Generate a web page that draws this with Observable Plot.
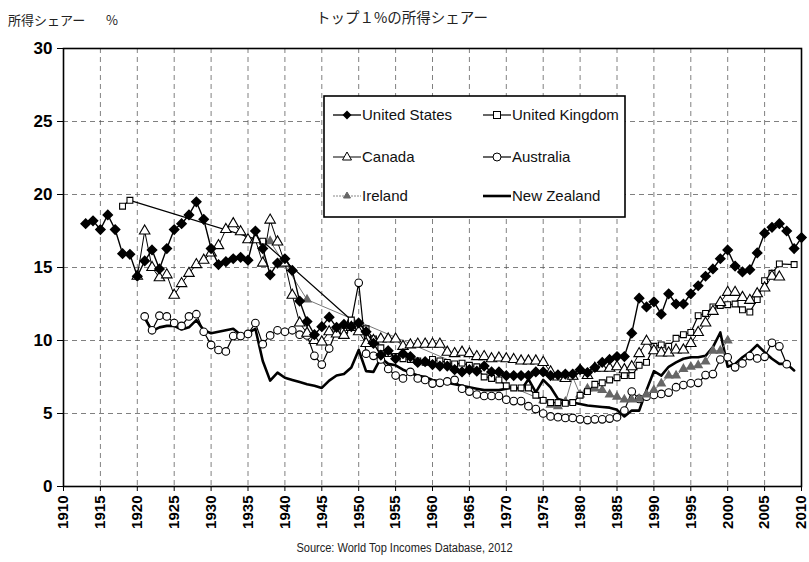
<!DOCTYPE html>
<html><head><meta charset="utf-8">
<script src="https://cdn.jsdelivr.net/npm/d3@7"></script>
<script src="https://cdn.jsdelivr.net/npm/@observablehq/plot@0.6"></script>
<style>
body{margin:0;background:#fff;}
#wrap{position:relative;width:809px;height:562px;overflow:hidden;font-family:"Liberation Sans",Arial,sans-serif;background:#fff;}
.t{position:absolute;white-space:nowrap;color:#222;line-height:1;}
.jp{font-family:"Noto Sans CJK JP","Noto Sans",sans-serif;font-size:13px;}
#chart{position:absolute;left:0;top:0;}
#legend{position:absolute;left:323px;top:95px;}
g[aria-label="x-axis tick label"] text{font-weight:bold;font-size:15px;}
g[aria-label="y-axis tick label"] text{font-weight:bold;font-size:17px;}
</style></head><body>
<div id="wrap">
  <div id="chart"></div>
  <div class="t jp" style="left:8px;top:13px;">所得シェアー</div>
  <div class="t jp" style="left:106px;top:13px;">%</div>
  <div class="t jp" style="left:316px;top:10px;font-size:14.5px;">トップ１%の所得シェアー</div>
  <div class="t" style="left:0;width:809px;text-align:center;top:542px;font-size:12px;transform:scaleX(0.92);">Source: World Top Incomes Database, 2012</div>
  <svg id="legend" width="304" height="124" font-family="Liberation Sans, Arial, sans-serif" font-size="15">
    <rect x="1" y="1" width="301" height="121" fill="#fff" stroke="#000" stroke-width="1.6"/>
    <line x1="10" x2="38" y1="20" y2="20" stroke="#000" stroke-width="1.3"/>
    <path d="M24,15.5 L28.5,20 L24,24.5 L19.5,20Z" fill="#000"/>
    <text x="39" y="25" fill="#111">United States</text>
    <line x1="160" x2="188" y1="20" y2="20" stroke="#000" stroke-width="1.2"/>
    <rect x="170.5" y="16.5" width="7" height="7" fill="#fff" stroke="#000"/>
    <text x="189" y="25" fill="#111">United Kingdom</text>
    <line x1="10" x2="38" y1="62" y2="62" stroke="#000" stroke-width="1"/>
    <path d="M24,57 L28.5,65 L19.5,65Z" fill="#fff" stroke="#000"/>
    <text x="39" y="67" fill="#111">Canada</text>
    <line x1="160" x2="188" y1="62" y2="62" stroke="#000" stroke-width="1.2"/>
    <circle cx="174" cy="62" r="4" fill="#fff" stroke="#000"/>
    <text x="189" y="67" fill="#111">Australia</text>
    <line x1="10" x2="38" y1="101" y2="101" stroke="#888" stroke-width="1" stroke-dasharray="2,1"/>
    <path d="M24,97 L27.5,103 L20.5,103Z" fill="#666" stroke="#666"/>
    <text x="39" y="106" fill="#111">Ireland</text>
    <line x1="160" x2="188" y1="101" y2="101" stroke="#000" stroke-width="2.6"/>
    <text x="189" y="106" fill="#111">New Zealand</text>
  </svg>
</div>
<script>
const xTicks = [1910,1915,1920,1925,1930,1935,1940,1945,1950,1955,1960,1965,1970,1975,1980,1985,1990,1995,2000,2005,2010];
const yTicks = [0,5,10,15,20,25,30];

const unitedStates = [[1913,18.0],[1914,18.2],[1915,17.6],[1916,18.6],[1917,17.6],[1918,15.95],[1919,15.9],[1920,14.4],[1921,15.45],[1922,16.2],[1923,14.9],[1924,16.3],[1925,17.6],[1926,18.0],[1927,18.6],[1928,19.5],[1929,18.3],[1930,16.3],[1931,15.2],[1932,15.4],[1933,15.6],[1934,15.7],[1935,15.5],[1936,17.5],[1937,16.3],[1938,14.5],[1939,15.3],[1940,15.6],[1941,14.8],[1942,12.7],[1943,11.3],[1944,10.4],[1945,10.95],[1946,11.6],[1947,10.9],[1948,11.1],[1949,10.95],[1950,11.2],[1951,10.6],[1952,9.8],[1953,9.0],[1954,9.3],[1955,8.75],[1956,9.1],[1957,8.9],[1958,8.5],[1959,8.55],[1960,8.35],[1961,8.25],[1962,8.25],[1963,8.0],[1964,7.85],[1965,8.0],[1966,7.9],[1967,8.25],[1968,7.85],[1969,7.85],[1970,7.6],[1971,7.6],[1972,7.6],[1973,7.6],[1974,7.85],[1975,7.85],[1976,7.6],[1977,7.65],[1978,7.7],[1979,7.7],[1980,8.0],[1981,7.8],[1982,8.15],[1983,8.5],[1984,8.7],[1985,8.9],[1986,8.9],[1987,10.5],[1988,12.9],[1989,12.3],[1990,12.65],[1991,11.8],[1992,13.2],[1993,12.5],[1994,12.5],[1995,13.2],[1996,13.75],[1997,14.4],[1998,14.9],[1999,15.6],[2000,16.2],[2001,15.1],[2002,14.7],[2003,14.85],[2004,16.0],[2005,17.35],[2006,17.75],[2007,18.0],[2008,17.5],[2009,16.3],[2010,17.05]];

const unitedKingdom = [[1918,19.2],[1919,19.6],[1937,16.8],[1949,11.4],[1951,10.8],[1952,10.1],[1953,9.5],[1954,9.1],[1955,8.9],[1956,8.75],[1957,8.7],[1958,8.6],[1959,8.5],[1960,8.7],[1961,8.6],[1962,8.5],[1963,8.4],[1964,8.45],[1965,8.3],[1966,8.2],[1967,7.5],[1968,7.4],[1969,7.3],[1970,6.9],[1971,6.75],[1972,6.75],[1973,6.75],[1974,6.25],[1975,5.9],[1976,5.75],[1977,5.75],[1978,5.7],[1979,5.75],[1980,6.25],[1981,6.5],[1982,7.0],[1983,7.1],[1984,7.3],[1985,7.45],[1986,7.6],[1987,7.6],[1988,8.3],[1989,8.5],[1990,9.6],[1991,9.7],[1992,9.6],[1993,10.15],[1994,10.4],[1995,10.55],[1996,11.7],[1997,11.85],[1998,12.3],[1999,12.4],[2000,12.45],[2001,12.5],[2002,12.1],[2003,11.95],[2004,12.8],[2005,14.1],[2006,14.6],[2007,15.25],[2009,15.2]];

const canada = [[1920,14.4],[1921,17.5],[1922,15.0],[1923,14.3],[1924,14.5],[1925,13.1],[1926,13.9],[1927,14.6],[1928,15.2],[1929,15.5],[1930,16.0],[1931,16.5],[1932,17.6],[1933,18.0],[1934,17.45],[1935,16.9],[1936,16.9],[1937,15.3],[1938,18.25],[1939,16.75],[1940,15.3],[1941,13.1],[1942,11.2],[1943,10.5],[1944,10.0],[1945,9.9],[1946,10.6],[1947,10.45],[1948,10.35],[1949,10.9],[1950,10.6],[1951,9.8],[1952,10.0],[1953,10.1],[1954,10.1],[1955,10.1],[1956,9.6],[1957,9.7],[1958,9.75],[1959,9.75],[1960,9.75],[1961,9.75],[1962,9.2],[1963,9.1],[1964,9.2],[1965,9.1],[1966,8.9],[1967,8.9],[1968,8.75],[1969,8.8],[1970,8.75],[1971,8.7],[1972,8.6],[1973,8.6],[1974,8.6],[1975,8.5],[1976,7.85],[1977,7.5],[1978,7.4],[1979,7.55],[1980,7.95],[1981,7.6],[1982,8.1],[1983,8.1],[1984,8.1],[1985,8.2],[1986,8.0],[1987,8.2],[1988,9.1],[1989,9.95],[1990,9.3],[1991,9.15],[1992,9.15],[1993,9.35],[1994,9.35],[1995,9.8],[1996,10.55],[1997,11.2],[1998,12.0],[1999,12.6],[2000,13.3],[2001,13.3],[2002,12.95],[2003,12.75],[2004,13.2],[2005,13.6],[2006,14.4],[2007,14.35]];

const australia = [[1921,11.65],[1922,10.7],[1923,11.7],[1924,11.65],[1925,11.2],[1926,11.0],[1927,11.65],[1928,11.8],[1929,10.6],[1930,9.7],[1931,9.35],[1932,9.25],[1933,10.3],[1934,10.3],[1935,10.45],[1936,11.2],[1937,9.75],[1938,10.35],[1939,10.7],[1940,10.6],[1941,10.7],[1942,10.4],[1943,10.35],[1944,8.95],[1945,8.35],[1946,9.45],[1947,10.7],[1948,10.6],[1949,11.3],[1950,13.95],[1951,9.1],[1952,8.95],[1953,8.7],[1954,8.05],[1955,7.6],[1956,7.4],[1957,7.85],[1958,7.4],[1959,7.3],[1960,7.05],[1961,7.1],[1962,7.2],[1963,7.3],[1964,6.7],[1965,6.5],[1966,6.3],[1967,6.2],[1968,6.2],[1969,6.2],[1970,5.95],[1971,5.85],[1972,5.85],[1973,5.5],[1974,5.3],[1975,5.0],[1976,4.8],[1977,4.75],[1978,4.7],[1979,4.7],[1980,4.6],[1981,4.55],[1982,4.6],[1983,4.6],[1984,4.65],[1985,4.75],[1986,5.2],[1987,6.5],[1988,6.0],[1989,6.15],[1990,6.27],[1991,6.34],[1992,6.43],[1993,6.8],[1994,6.95],[1995,7.07],[1996,7.1],[1997,7.63],[1998,7.7],[1999,8.7],[2000,8.85],[2001,8.16],[2002,8.43],[2003,8.93],[2004,8.77],[2005,8.88],[2006,9.84],[2007,9.6],[2008,8.38]];

const ireland = [[1938,16.8],[1943,12.8],[1975,5.9],[1976,5.6],[1977,5.5],[1978,5.8],[1979,7.5],[1980,6.3],[1981,6.7],[1982,6.7],[1983,6.6],[1984,6.3],[1985,6.15],[1986,5.95],[1987,5.95],[1988,6.0],[1989,6.3],[1990,6.6],[1991,7.05],[1992,7.6],[1993,7.6],[1994,8.05],[1995,8.2],[1996,8.3],[1997,8.55],[1998,9.3],[1999,9.3],[2000,10.0]];

const newZealand = [[1921,11.55],[1922,10.65],[1923,10.9],[1924,11.0],[1925,11.0],[1926,10.75],[1927,10.9],[1928,11.4],[1929,10.7],[1930,10.5],[1931,10.6],[1932,10.7],[1933,10.8],[1934,10.4],[1935,10.5],[1936,10.8],[1937,8.6],[1938,7.25],[1939,7.8],[1940,7.45],[1941,7.3],[1942,7.15],[1943,7.0],[1944,6.9],[1945,6.75],[1946,7.25],[1947,7.6],[1948,7.7],[1949,8.15],[1950,9.35],[1951,7.9],[1952,7.85],[1953,8.8],[1954,8.4],[1955,8.3],[1956,8.0],[1957,7.8],[1958,7.6],[1959,7.5],[1960,7.3],[1961,7.2],[1962,7.1],[1963,7.0],[1964,6.9],[1965,6.8],[1966,6.7],[1967,6.6],[1968,6.6],[1969,6.6],[1970,6.7],[1971,6.8],[1972,6.6],[1973,7.35],[1974,6.45],[1975,7.3],[1976,6.8],[1977,6.0],[1978,5.85],[1979,5.75],[1980,5.65],[1981,5.55],[1982,5.5],[1983,5.45],[1984,5.4],[1985,5.25],[1986,4.8],[1987,5.2],[1988,5.2],[1989,6.6],[1990,7.9],[1991,7.6],[1992,8.2],[1993,8.5],[1994,8.75],[1995,8.85],[1996,8.85],[1997,8.95],[1998,9.55],[1999,10.55],[2000,8.2],[2001,8.4],[2002,8.85],[2003,9.2],[2004,9.7],[2005,9.2],[2006,8.75],[2007,8.4],[2008,8.4],[2009,7.95]];

const rows = (arr) => arr.map(([year, value]) => ({year, value}));
const us = rows(unitedStates), uk = rows(unitedKingdom), ca = rows(canada),
      au = rows(australia), ie = rows(ireland), nz = rows(newZealand);

const gridStyle = {stroke:"#555", strokeOpacity:0.75, strokeDasharray:"5,4", strokeWidth:1};

const chart = Plot.plot({
  width: 809, height: 562,
  marginLeft: 63, marginRight: 8, marginTop: 48, marginBottom: 76,
  x: {domain: [1910, 2010], label: null},
  y: {domain: [0, 30], label: null},
  style: {background: "transparent", fontFamily: "Liberation Sans, Arial, sans-serif", color: "#000", overflow: "visible"},
  marks: [
    Plot.gridX(xTicks.slice(1, -1), gridStyle),
    Plot.gridY(yTicks.slice(1, -1), gridStyle),
    Plot.axisX(xTicks, {tickRotate: -90, tickSize: 5, tickPadding: 4, tickFormat: d => String(d), label: null, fontSize: 15, fontWeight: "bold"}),
    Plot.axisY(yTicks, {tickSize: 6, tickPadding: 5, label: null, fontSize: 17, fontWeight: "bold"}),
    Plot.frame({stroke: "#000", strokeWidth: 1.6}),
    Plot.line(nz, {x: "year", y: "value", stroke: "#000", strokeWidth: 2.6}),
    Plot.line(au, {x: "year", y: "value", stroke: "#000", strokeWidth: 1.2}),
    Plot.dot(au, {x: "year", y: "value", symbol: "circle", r: 3.8, fill: "#fff", stroke: "#000", strokeWidth: 1.1}),
    Plot.line(ie, {x: "year", y: "value", stroke: "#777", strokeWidth: 1}),
    Plot.dot(ie, {x: "year", y: "value", symbol: "triangle", r: 2.8, fill: "#666", stroke: "#666"}),
    Plot.line(uk, {x: "year", y: "value", stroke: "#000", strokeWidth: 1.2}),
    Plot.dot(uk, {x: "year", y: "value", symbol: "square", r: 3.3, fill: "#fff", stroke: "#000", strokeWidth: 1.1}),
    Plot.line(ca, {x: "year", y: "value", stroke: "#000", strokeWidth: 1}),
    Plot.dot(ca, {x: "year", y: "value", symbol: "triangle", r: 3.9, fill: "#fff", stroke: "#000", strokeWidth: 1.1}),
    Plot.line(us, {x: "year", y: "value", stroke: "#000", strokeWidth: 1.4}),
    Plot.dot(us, {x: "year", y: "value", symbol: "diamond2", r: 4.1, fill: "#000", stroke: "#000"})
  ]
});
document.getElementById("chart").appendChild(chart);
</script>
</body></html>
